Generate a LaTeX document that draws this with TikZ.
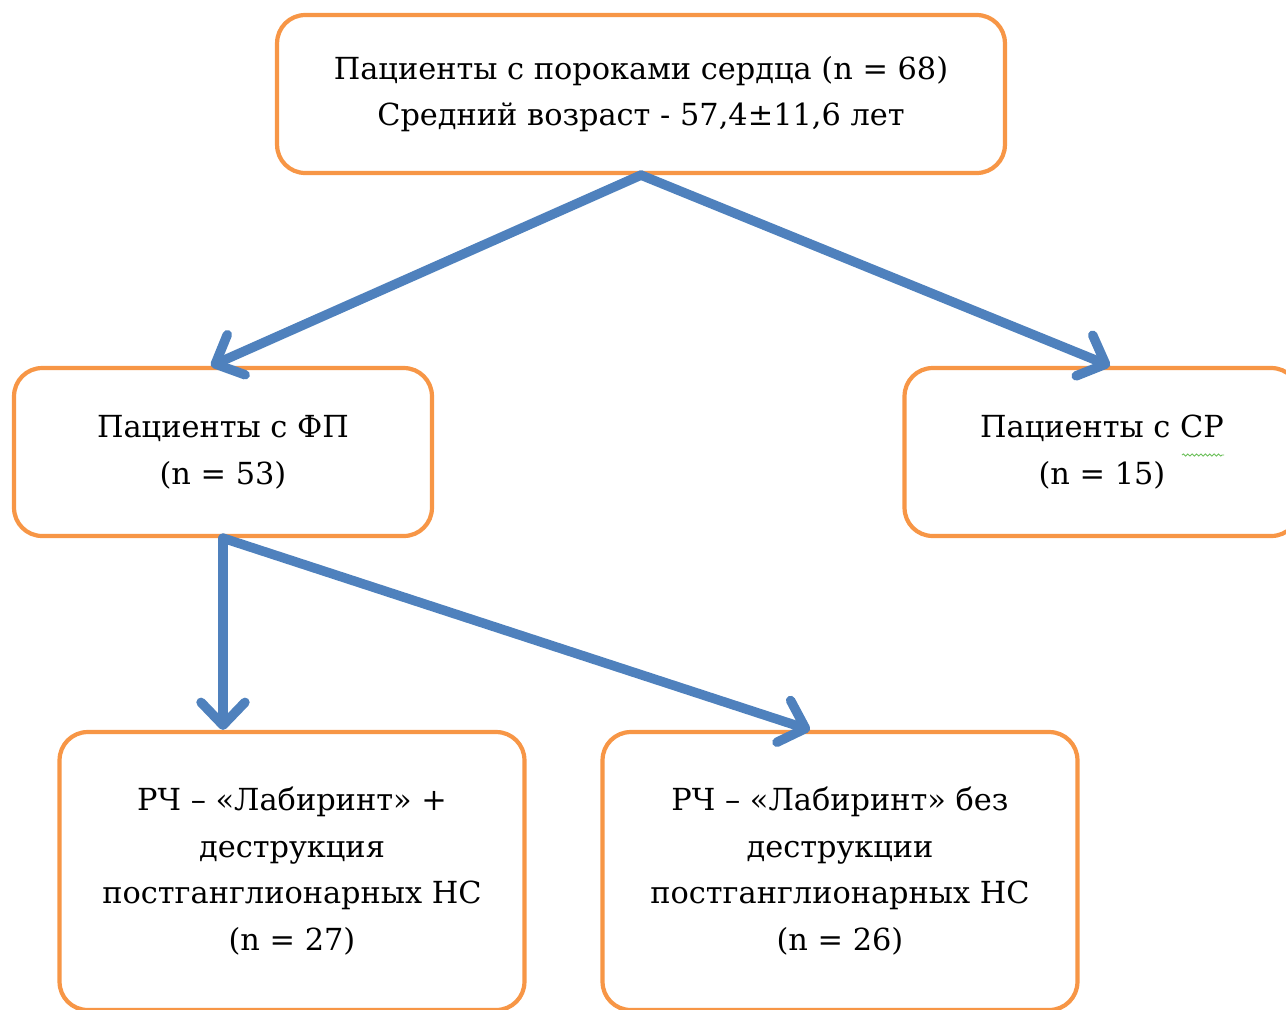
\documentclass[tikz,border=0pt]{standalone}
\usepackage{fontspec}
\setmainfont{DejaVu Serif}
\usepackage{tikz}
\usetikzlibrary{arrows.meta, positioning, calc, decorations.pathmorphing}
\definecolor{boxorange}{HTML}{F79646}
\definecolor{flowblue}{HTML}{4F81BD}
\definecolor{spellgreen}{HTML}{6BBF59}

\tikzset{
  groupbox/.style={draw=boxorange, line width=2.4pt, rounded corners=16pt, fill=white,
    align=center, inner sep=0pt, font=\fontsize{17.3}{26.5}\selectfont},
  flowarrow/.style={flowblue, line width=5.4pt, line cap=round,
    -{Straight Barb[length=13pt, width=25pt, round]}}
}

\begin{document}
\begin{tikzpicture}[x=0.02cm, y=-0.02cm]
  \useasboundingbox (0,0) rectangle (1286,1009);
  \clip (0,0) rectangle (1286,1009);

  % Boxes
  \node[groupbox, minimum width=14.56cm, minimum height=3.16cm] (all) at (641,94)
    {Пациенты с пороками сердца (n = 68)\\Средний возраст - 57,4±11,6 лет};
  \node[groupbox, minimum width=8.36cm, minimum height=3.36cm] (fp) at (223,452)
    {Пациенты с ФП\\(n = 53)};
  \node[groupbox, minimum width=7.9cm, minimum height=3.36cm] (sr) at (1102,452)
    {Пациенты с СР\\(n = 15)};
  \node[groupbox, minimum width=9.3cm, minimum height=5.56cm] (labA) at (292,871)
    {РЧ – «Лабиринт» +\\деструкция\\постганглионарных НС\\(n = 27)};
  \node[groupbox, minimum width=9.5cm, minimum height=5.56cm] (labB) at (840,871)
    {РЧ – «Лабиринт» без\\деструкции\\постганглионарных НС\\(n = 26)};

  % spell-check mark under the abbreviation
  \draw[spellgreen, line width=0.5pt, decorate, decoration={snake, amplitude=0.6pt, segment length=2.5pt}]
    (1182,455) -- (1224,455);

  % Arrows
  \draw[flowarrow] (all.south) -- ($(fp.north)+(-12,0)$);
  \draw[flowarrow] (all.south) -- ($(sr.north)+(8,0)$);
  \draw[flowarrow] (fp.south) -- (fp.south |- labA.north);
  \draw[flowarrow] (fp.south) -- ($(labB.north)+(-30,0)$);
\end{tikzpicture}
\end{document}
